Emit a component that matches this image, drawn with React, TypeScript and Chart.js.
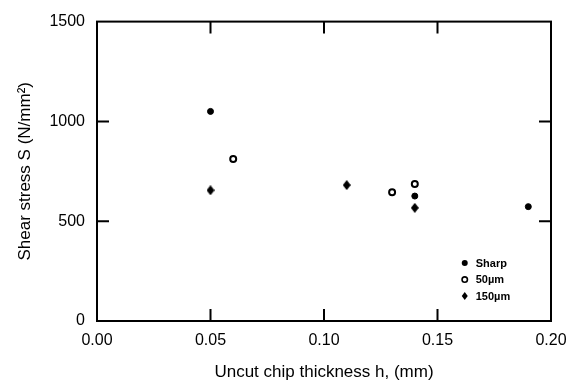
import React, { useEffect, useRef } from "react";
import { Chart, registerables } from "chart.js";

Chart.register(...registerables);

const sharpX = [0.05, 0.14, 0.19];
const sharpY = [1050, 626, 573];
const um50X = [0.06, 0.13, 0.14];
const um50Y = [812, 645, 686];
const um150X = [0.05, 0.11, 0.14];
const um150Y = [655, 681, 567];

const seriesLabels = ["Sharp", "50µm", "150µm"];
const xTickInner = [0.05, 0.1, 0.15];
const yTickInner = [500, 1000];

const FONT = "'Liberation Sans', Arial, Helvetica, sans-serif";

function makeDiamond(w: number, h: number): HTMLCanvasElement {
  const c = document.createElement("canvas");
  c.width = w;
  c.height = h;
  const g = c.getContext("2d")!;
  g.fillStyle = "#000";
  g.beginPath();
  g.moveTo(w / 2, 0);
  g.lineTo(w, h / 2);
  g.lineTo(w / 2, h);
  g.lineTo(0, h / 2);
  g.closePath();
  g.fill();
  return c;
}

export default function App() {
  const ref = useRef<HTMLCanvasElement | null>(null);

  useEffect(() => {
    if (!ref.current) return;
    const diamond = makeDiamond(8, 10);

    const framePlugin = {
      id: "frame",
      afterDraw(chart: any) {
        const { ctx, chartArea } = chart;
        const xs = chart.scales.x;
        const ys = chart.scales.y;
        const { left, right, top, bottom } = chartArea;
        ctx.save();
        ctx.strokeStyle = "#000";
        ctx.lineWidth = 2;
        ctx.strokeRect(left, top, right - left, bottom - top);
        const tl = 12;
        ctx.beginPath();
        xTickInner.forEach((v) => {
          const px = xs.getPixelForValue(v);
          ctx.moveTo(px, bottom);
          ctx.lineTo(px, bottom - tl);
          ctx.moveTo(px, top);
          ctx.lineTo(px, top + tl);
        });
        yTickInner.forEach((v) => {
          const py = ys.getPixelForValue(v);
          ctx.moveTo(left, py);
          ctx.lineTo(left + tl, py);
          ctx.moveTo(right, py);
          ctx.lineTo(right - tl, py);
        });
        ctx.stroke();

        // legend
        const lx = xs.getPixelForValue(0.162);
        const ly0 = ys.getPixelForValue(290);
        const step = 16.5;
        ctx.font = "bold 11px " + FONT;
        ctx.textBaseline = "middle";
        ctx.textAlign = "left";
        ctx.fillStyle = "#000";
        seriesLabels.forEach((lab, i) => {
          const y = ly0 + i * step;
          if (i === 0) {
            ctx.beginPath();
            ctx.arc(lx, y, 3, 0, Math.PI * 2);
            ctx.fill();
          } else if (i === 1) {
            ctx.beginPath();
            ctx.lineWidth = 1.6;
            ctx.arc(lx, y, 2.7, 0, Math.PI * 2);
            ctx.stroke();
          } else {
            ctx.beginPath();
            ctx.moveTo(lx, y - 4);
            ctx.lineTo(lx + 3, y);
            ctx.lineTo(lx, y + 4);
            ctx.lineTo(lx - 3, y);
            ctx.closePath();
            ctx.fill();
          }
          ctx.fillText(lab, lx + 11, y + 0.5);
        });
        ctx.restore();
      },
    };

    const chart = new Chart(ref.current, {
      type: "scatter",
      data: {
        datasets: [
          {
            label: seriesLabels[0],
            data: sharpX.map((x, i) => ({ x, y: sharpY[i] })),
            pointStyle: "circle",
            radius: 3,
            borderWidth: 1,
            backgroundColor: "#000",
            borderColor: "#000",
          },
          {
            label: seriesLabels[1],
            data: um50X.map((x, i) => ({ x, y: um50Y[i] })),
            pointStyle: "circle",
            radius: 3,
            borderWidth: 2,
            backgroundColor: "#fff",
            borderColor: "#000",
          },
          {
            label: seriesLabels[2],
            data: um150X.map((x, i) => ({ x, y: um150Y[i] })),
            pointStyle: diamond as any,
            radius: 4,
            borderWidth: 0,
            backgroundColor: "#000",
            borderColor: "#000",
          },
        ],
      },
      options: {
        animation: false,
        responsive: false,
        devicePixelRatio: 1,
        layout: { padding: { top: 15, right: 26, bottom: 0, left: 0 } },
        plugins: {
          legend: { display: false },
          tooltip: { enabled: false },
        },
        scales: {
          x: {
            type: "linear",
            min: 0,
            max: 0.2,
            grid: { display: false, drawTicks: false },
            border: { display: false },
            ticks: {
              stepSize: 0.05,
              padding: 10,
              color: "#000",
              font: { family: FONT, size: 16 },
              callback: (v: any) => Number(v).toFixed(2),
            },
            title: {
              display: true,
              text: "Uncut chip thickness h, (mm)",
              color: "#000",
              font: { family: FONT, size: 17 },
              padding: { top: 1, bottom: 0 },
            },
            afterFit: (s: any) => {
              s.height = 62;
            },
          },
          y: {
            type: "linear",
            min: 0,
            max: 1500,
            grid: { display: false, drawTicks: false },
            border: { display: false },
            ticks: {
              stepSize: 500,
              padding: 12,
              color: "#000",
              font: { family: FONT, size: 16 },
              callback: (v: any) => String(v),
            },
            title: {
              display: true,
              text: "Shear stress S (N/mm²)",
              color: "#000",
              font: { family: FONT, size: 17 },
              padding: { top: 15, bottom: 15 },
            },
            afterFit: (s: any) => {
              s.width = 97;
            },
          },
        },
      },
      plugins: [framePlugin],
    } as any);

    return () => chart.destroy();
  }, []);

  return (
    <div style={{ position: "absolute", left: 0, top: 0, width: 577, height: 383, background: "#fff" }}>
      <canvas ref={ref} width={577} height={383} style={{ display: "block" }} />
    </div>
  );
}
